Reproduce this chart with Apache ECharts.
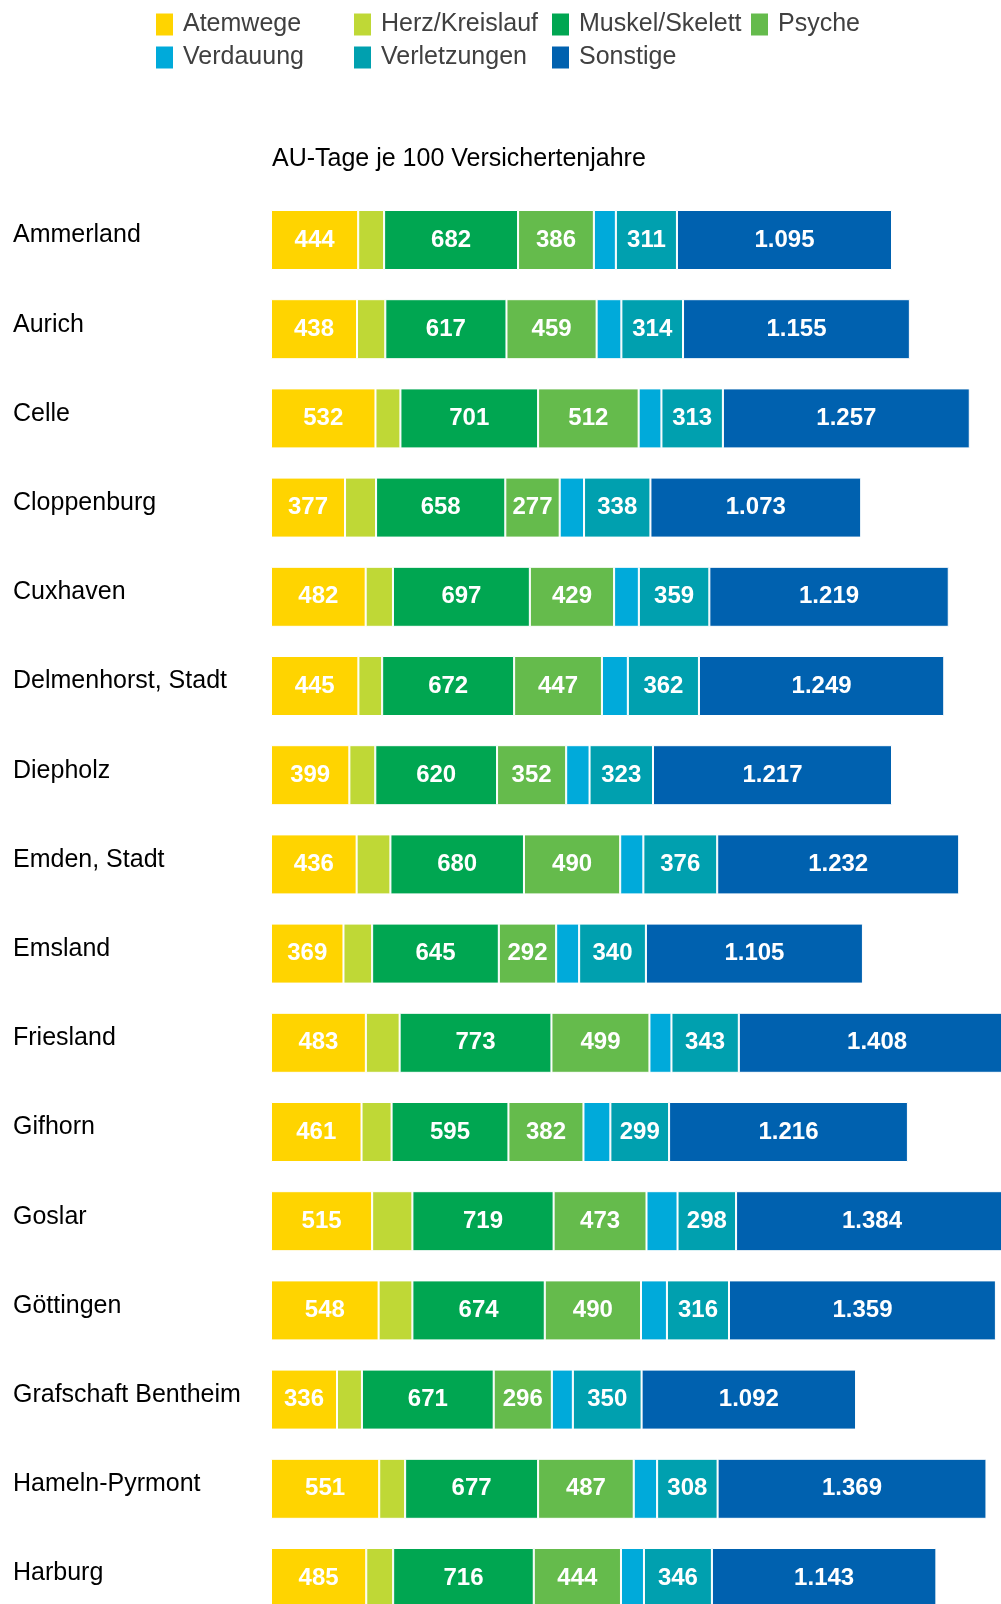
<!DOCTYPE html>
<html>
<head>
<meta charset="utf-8">
<script src="https://cdn.jsdelivr.net/npm/echarts@6/dist/echarts.min.js"></script>
<style>
html,body{margin:0;padding:0;background:#fff;}
#chart{width:1001px;height:1604px;}
</style>
</head>
<body>
<div id="chart"></div>
<script>
const categories = ['Ammerland','Aurich','Celle','Cloppenburg','Cuxhaven','Delmenhorst, Stadt','Diepholz','Emden, Stadt','Emsland','Friesland','Gifhorn','Goslar','Göttingen','Grafschaft Bentheim','Hameln-Pyrmont','Harburg'];
const atemwege      = [444,438,532,377,482,445,399,436,369,483,461,515,548,336,551,485];
const herzKreislauf = [132,144,127,158,139,121,132,172,146,172,153,205,172,127,132,137];
const muskelSkelett = [682,617,701,658,697,672,620,680,645,773,595,719,674,671,677,716];
const psyche        = [386,459,512,277,429,447,352,490,292,499,382,473,490,296,487,444];
const verdauung     = [112,126,116,124,126,132,119,118,117,112,137,158,132,107,119,117];
const verletzungen  = [311,314,313,338,359,362,323,376,340,343,299,298,316,350,308,346];
const sonstige      = [1095,1155,1257,1073,1219,1249,1217,1232,1105,1408,1216,1384,1359,1092,1369,1143];
const seriesNames = ['Atemwege','Herz/Kreislauf','Muskel/Skelett','Psyche','Verdauung','Verletzungen','Sonstige'];
const seriesColors = ['#FFD400','#BFD836','#00A651','#65BB4C','#00AADA','#00A0AF','#0061AF'];
const seriesLabeled = [true,false,true,true,false,true,true];
const titleText = 'AU-Tage je 100 Versichertenjahre';

const seriesData = [atemwege, herzKreislauf, muskelSkelett, psyche, verdauung, verletzungen, sonstige];
const FONT = '"Liberation Sans", Arial, sans-serif';

function fmt(v){ return String(v).replace(/\B(?=(\d{3})+(?!\d))/g, '.'); }

const legendPos = [[156,12],[354,12],[552,12],[751,12],[156,45],[354,45],[552,45]];

const chart = echarts.init(document.getElementById('chart'), null, {renderer:'canvas'});
chart.setOption({
  backgroundColor:'#fff',
  animation:false,
  title:{
    text:titleText, left:272, top:147, padding:0,
    textStyle:{fontFamily:FONT, fontSize:25, fontWeight:'normal', color:'#000'}
  },
  legend: seriesNames.map((n,i)=>({
    data:[n], left:legendPos[i][0], top:legendPos[i][1], padding:0,
    icon:'rect', itemWidth:17, itemHeight:22, selectedMode:false,
    itemStyle:{borderWidth:0},
    textStyle:{fontFamily:FONT, fontSize:25, color:'#404040', padding:[0,0,0,5]}
  })),
  grid:{left:271, top:240, width:730, height:1338, containLabel:false, outerBoundsMode:'none'},
  xAxis:{type:'value', min:0, max:3717, show:false, splitLine:{show:false}},
  yAxis:{
    type:'category', data:categories, inverse:true, boundaryGap:false,
    axisLine:{show:false}, axisTick:{show:false}, splitLine:{show:false},
    axisLabel:{
      align:'left', margin:258, fontFamily:FONT, fontSize:25, color:'#000',
      verticalAlign:'bottom', lineHeight:9
    }
  },
  series: seriesNames.map((n,i)=>({
    name:n, type:'bar', stack:'total', barWidth:60, clip:false,
    data:seriesData[i],
    itemStyle:{color:seriesColors[i], borderColor:'#fff', borderWidth:1},
    label:{
      show:seriesLabeled[i], position:'inside', color:'#fff',
      fontFamily:FONT, fontSize:24, fontWeight:'bold',
      formatter:p=>fmt(p.value)
    }
  }))
});
</script>
</body>
</html>
